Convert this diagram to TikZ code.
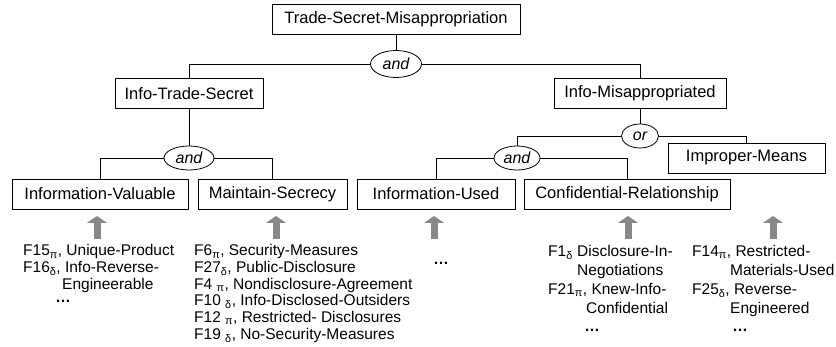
\documentclass[tikz,border=0pt]{standalone}
\usepackage{fontspec}
\setmainfont{Liberation Sans}
\usetikzlibrary{shapes.geometric,arrows.meta}
\definecolor{factgray}{RGB}{136,136,136}
\newcommand\Psub{\textsubscript{π}}
\newcommand\Dsub{\textsubscript{δ}}
\begin{document}
\begin{tikzpicture}[x=1pt,y=-1pt,
  box/.style={draw, line width=0.8pt, rectangle, inner sep=0pt, minimum height=30pt, font=\fontsize{16.5}{19}\selectfont},
  conn/.style={draw, line width=0.8pt, ellipse, inner sep=0pt, minimum height=24pt, font=\fontsize{16}{19}\selectfont\itshape},
  wire/.style={line width=0.8pt},
  fact/.style={anchor=base west, inner sep=0pt, font=\fontsize{15.5}{18}\selectfont},
  dots/.style={anchor=base, inner sep=0pt, font=\fontsize{15.5}{18}\selectfont\bfseries},
  factarrow/.style={draw=factgray, line width=7pt, -{Triangle[width=20pt,length=7pt]}}
]
\path[use as bounding box] (0,0) rectangle (836,347);

% boxes and connectives
\node[box, minimum width=248pt] (top) at (396,19.5) {Trade-Secret-Misappropriation};
\node[conn, minimum width=51pt, minimum height=27pt] (andA) at (396,64) {and};
\node[box, minimum width=148pt] (its) at (189,93.5) {Info-Trade-Secret};
\node[box, minimum width=172pt] (im) at (640,93.5) {Info-Misappropriated};
\node[conn, minimum width=50pt] (andB) at (189,158) {and};
\node[conn, minimum width=37pt] (orC) at (640,136) {or};
\node[conn, minimum width=46pt] (andD) at (517,158) {and};
\node[box, minimum width=176pt] (iv) at (100,194) {Information-Valuable};
\node[box, minimum width=149pt] (ms) at (272.5,194) {Maintain-Secrecy};
\node[box, minimum width=158pt] (iu) at (436,194) {Information-Used};
\node[box, minimum width=206pt] (cr) at (627,194) {Confidential-Relationship};
\node[box, minimum width=157pt] (imp) at (746.5,158) {Improper-Means};

% connectors
\draw[wire] (top.south) -- (andA.north);
\draw[wire] (andA.west) -| (its.north);
\draw[wire] (andA.east) -| (im.north);
\draw[wire] (its.south) -- (andB.north);
\draw[wire] (andB.west) -| (iv.north);
\draw[wire] (andB.east) -| (ms.north);
\draw[wire] (im.south) -- (orC.north);
\draw[wire] (orC.west) -| (andD.north);
\draw[wire] (orC.east) -| (imp.north);
\draw[wire] (andD.west) -| (iu.north);
\draw[wire] (andD.east) -| (cr.north);

% gray arrows
\coordinate (a1s) at (97,239);  \coordinate (a1t) at (97,216);
\coordinate (a2s) at (276,239); \coordinate (a2t) at (276,216);
\coordinate (a3s) at (434,239); \coordinate (a3t) at (434,216);
\coordinate (a4s) at (628,239); \coordinate (a4t) at (628,216);
\coordinate (a5s) at (773,239); \coordinate (a5t) at (773,216);
\draw[factarrow] (a1s) -- (a1t);
\draw[factarrow] (a2s) -- (a2t);
\draw[factarrow] (a3s) -- (a3t);
\draw[factarrow] (a4s) -- (a4t);
\draw[factarrow] (a5s) -- (a5t);

% factor texts: Information-Valuable
\node[fact] (f15) at (23,256) {F15\Psub, Unique-Product};
\node[fact] (f16) at (23,272.7) {F16\Dsub, Info-Reverse-};
\node[fact] (f16b) at (62,289.3) {Engineerable};
\node[dots] (d1) at (63,303) {…};

% Maintain-Secrecy
\node[fact] (f6) at (194,256) {F6\Psub, Security-Measures};
\node[fact] (f27) at (194,272.7) {F27\Dsub, Public-Disclosure};
\node[fact] (f4) at (194,289.3) {F4 \Psub, Nondisclosure-Agreement};
\node[fact] (f10) at (194,306) {F10 \Dsub, Info-Disclosed-Outsiders};
\node[fact] (f12) at (194,322.7) {F12 \Psub, Restricted- Disclosures};
\node[fact] (f19) at (194,339.3) {F19 \Dsub, No-Security-Measures};

% Information-Used
\node[dots] (d3) at (441,265) {…};

% Confidential-Relationship
\node[fact] (f1) at (548,256.5) {F1\Dsub\ Disclosure-In-};
\node[fact] (f1b) at (577,275.4) {Negotiations};
\node[fact] (f21) at (548,294.3) {F21\Psub, Knew-Info-};
\node[fact] (f21b) at (586,313.2) {Confidential};
\node[dots] (d4) at (592,332) {…};

% Improper-Means
\node[fact] (f14) at (692,256.5) {F14\Psub, Restricted-};
\node[fact] (f14b) at (730,275.4) {Materials-Used};
\node[fact] (f25) at (692,294.3) {F25\Dsub, Reverse-};
\node[fact] (f25b) at (730,313.2) {Engineered};
\node[dots] (d5) at (740,332) {…};
\end{tikzpicture}
\end{document}
